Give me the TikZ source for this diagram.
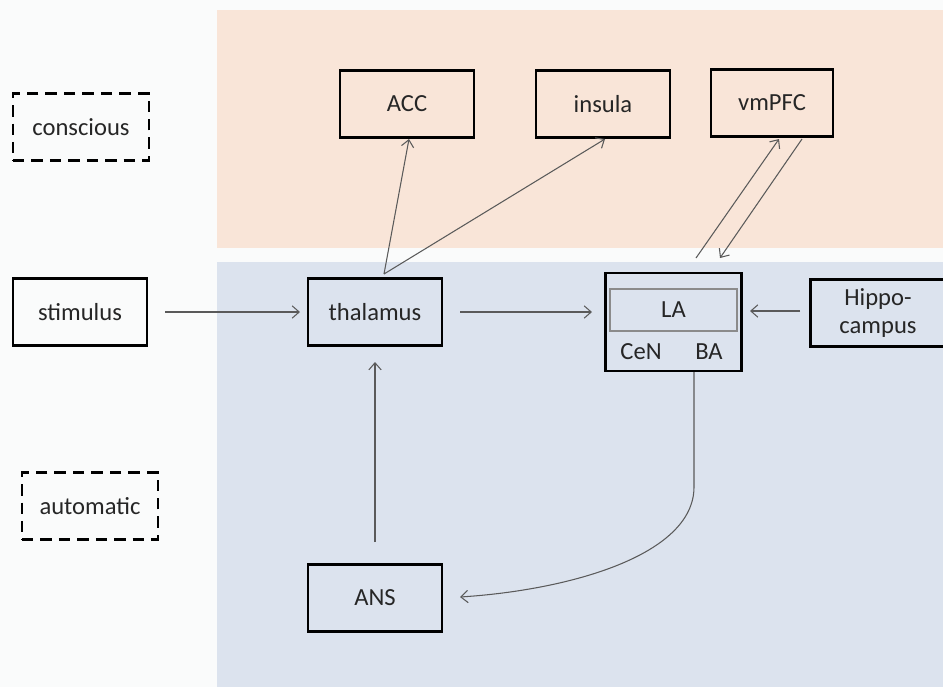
\documentclass[tikz,border=0pt]{standalone}
\usepackage{fontspec}
\setmainfont{Carlito}
\usetikzlibrary{arrows.meta}
\definecolor{peach}{HTML}{F9E5D8}
\definecolor{paleblue}{HTML}{DCE3EE}
\definecolor{arrowgrey}{HTML}{5A5A5A}
\definecolor{txt}{HTML}{262626}
\definecolor{offwhite}{HTML}{FAFBFB}
\begin{document}
\begin{tikzpicture}[x=0.02cm,y=-0.02cm,
  box/.style={draw=black,line width=1.4pt,minimum width=2.68cm,minimum height=1.34cm,inner sep=0pt,font=\fontsize{14}{16}\selectfont,text=txt,align=center},
  dbox/.style={draw=black,line width=1.6pt,dash pattern=on 6.5pt off 4pt,fill=offwhite,minimum width=2.72cm,minimum height=1.34cm,inner sep=0pt,font=\fontsize{14}{16}\selectfont,text=txt},
  conn/.style={draw=arrowgrey,line width=0.6pt,-{Straight Barb[length=4pt,width=7pt]}},
  lbl/.style={font=\fontsize{14}{16}\selectfont,text=txt,inner sep=0pt}]
\useasboundingbox (0,0) rectangle (943,687);
\fill[offwhite] (0,0) rectangle (943,687);
\fill[peach] (217,10) rectangle (943,248);
\fill[paleblue] (217,262) rectangle (943,687);

\node[dbox] (conscious) at (81,127) {conscious};
\node[dbox] (automatic) at (90,506) {automatic};

\node[box] (acc) at (407,104) {ACC};
\node[box] (insula) at (603,104) {insula};
\node[box,minimum width=2.44cm] (vmpfc) at (772,103) {vmPFC};

\node[box] (stimulus) at (80,312) {stimulus};
\node[box] (thalamus) at (375,312) {thalamus};
\node[box] (ans) at (375,598) {ANS};
\node[box,minimum width=2.7cm] (hippo) at (878,313) {Hippo-\\campus};

\node[draw=black,line width=1.4pt,minimum width=2.72cm,minimum height=1.96cm,inner sep=0pt] (amyg) at (673.5,322) {};
\node[draw=arrowgrey!70,line width=0.8pt,minimum width=2.54cm,minimum height=0.84cm,inner sep=0pt,lbl] (la) at (673.5,310) {LA};
\node[lbl] (cen) at (641,352) {CeN};
\node[lbl] (ba) at (709,352) {BA};

\coordinate (stimR) at (165,312);
\coordinate (thalL) at (300,312);
\coordinate (thalR) at (460,312);
\coordinate (amygL) at (592,312);
\coordinate (hipL) at (800,311);
\coordinate (amygR) at (750,311);
\coordinate (ansT) at (375,542);
\coordinate (thalB) at (375,362);
\coordinate (thalT) at (384,274);
\coordinate (accB) at (409,139);
\coordinate (insB) at (605,139);
\coordinate (amygT1) at (696,258);
\coordinate (vmB1) at (779,139);
\coordinate (vmB2) at (802,139);
\coordinate (amygT2) at (720,258);
\coordinate (baB) at (694,372);
\coordinate (bend) at (694,487);
\coordinate (ansR) at (460,597);

\draw[conn] (stimR) -- (thalL);
\draw[conn] (thalR) -- (amygL);
\draw[conn] (hipL) -- (amygR);
\draw[conn] (ansT) -- (thalB);
\draw[conn] (thalT) -- (accB);
\draw[conn] (thalT) -- (insB);
\draw[conn] (amygT1) -- (vmB1);
\draw[conn] (vmB2) -- (amygT2);
\draw[conn] (baB) -- (bend) .. controls (694,555) and (570,590) .. (ansR);
\end{tikzpicture}
\end{document}
